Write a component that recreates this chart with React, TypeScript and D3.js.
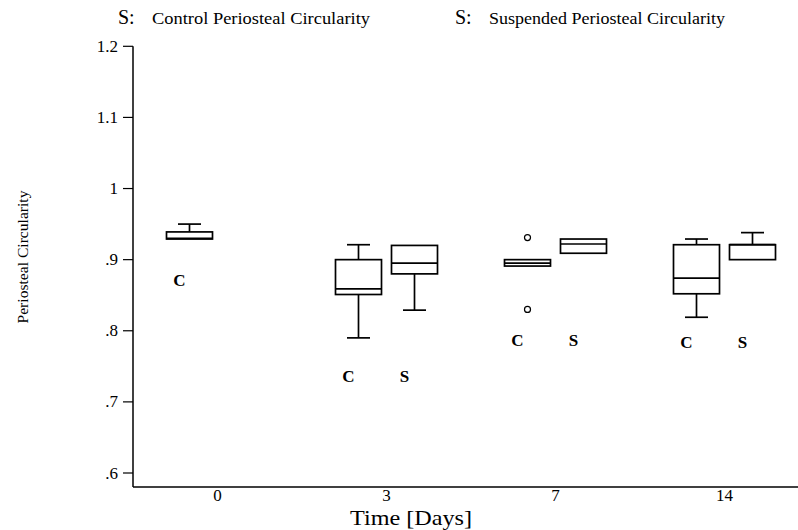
import { useEffect, useRef } from 'react';
import * as d3 from 'd3';

const days = ['0', '3', '7', '14'];
const groups = ['C', 'S'];

// [min, q1, median, q3, max]
const controlBoxes = [
  [0.93, 0.929, 0.93, 0.939, 0.95],
  [0.79, 0.851, 0.859, 0.9, 0.921],
  [0.891, 0.891, 0.895, 0.9, 0.9],
  [0.819, 0.852, 0.874, 0.921, 0.929],
];
const suspendedBoxes = [
  null,
  [0.829, 0.88, 0.895, 0.92, 0.92],
  [0.909, 0.909, 0.922, 0.929, 0.929],
  [0.9, 0.9, 0.921, 0.921, 0.938],
];
const controlOutliers = [[], [], [0.931, 0.83], []];
const suspendedOutliers = [[], [], [], []];
// where the C / S letters sit under each day
const labelLevels = [0.871, 0.736, 0.787, 0.784];

const yTicks = [0.6, 0.7, 0.8, 0.9, 1.0, 1.1, 1.2];
const yTickLabels = ['.6', '.7', '.8', '.9', '1', '1.1', '1.2'];

const legendItems = ['Control Periosteal Circularity', 'Suspended Periosteal Circularity'];

const FONT = '"Liberation Serif", "DejaVu Serif", serif';

export default function App() {
  const ref = useRef<SVGSVGElement>(null);

  useEffect(() => {
    const svg = d3.select(ref.current);
    svg.selectAll('*').remove();

    const W = 798;
    const left = 133, axisBottom = 487;

    const y = d3.scaleLinear().domain([0.6, 1.2]).range([473, 46.3]);
    const x0 = d3.scalePoint().domain(days).range([217.5, 724.5]);
    const x1 = d3.scaleBand().domain(groups).range([-51, 51]).paddingInner(10 / 56);
    const bw = x1.bandwidth();

    // axes
    svg.append('line').attr('x1', left).attr('x2', left).attr('y1', y(1.2)).attr('y2', axisBottom)
      .attr('stroke', '#000').attr('stroke-width', 1.5);
    svg.append('line').attr('x1', left).attr('x2', W).attr('y1', axisBottom).attr('y2', axisBottom)
      .attr('stroke', '#000').attr('stroke-width', 1.5);

    const yt = svg.append('g').selectAll('g').data(yTicks).enter().append('g');
    yt.append('line').attr('x1', left - 10).attr('x2', left).attr('y1', d => y(d)).attr('y2', d => y(d))
      .attr('stroke', '#000').attr('stroke-width', 1.2);
    yt.append('text').attr('x', 118).attr('y', d => y(d) + 5.5).attr('text-anchor', 'end')
      .style('font-family', FONT).style('font-size', '17px').text((d, i) => yTickLabels[i]);

    svg.selectAll('.xlab').data(days).enter().append('text').attr('class', 'xlab')
      .attr('x', d => x0(d)!).attr('y', 501).attr('text-anchor', 'middle')
      .style('font-family', FONT).style('font-size', '17px').text(d => d);

    svg.append('text').attr('x', 411).attr('y', 525).attr('text-anchor', 'middle')
      .attr('textLength', 122).attr('lengthAdjust', 'spacingAndGlyphs')
      .style('font-family', FONT).style('font-size', '21px').text('Time [Days]');

    svg.append('text').attr('transform', 'translate(28,257) rotate(-90)').attr('text-anchor', 'middle')
      .attr('textLength', 133).attr('lengthAdjust', 'spacingAndGlyphs')
      .style('font-family', FONT).style('font-size', '15px').text('Periosteal Circularity');

    // legend
    const legendWidths = [218, 236];
    const leg = svg.selectAll('.leg').data(legendItems).enter().append('g').attr('class', 'leg')
      .attr('transform', (d, i) => `translate(${i === 0 ? 118 : 455},24)`);
    leg.append('text').style('font-family', FONT).style('font-size', '20px')
      .text('S:');
    leg.append('text').attr('x', 34).attr('textLength', (d, i) => legendWidths[i])
      .attr('lengthAdjust', 'spacingAndGlyphs')
      .style('font-family', FONT).style('font-size', '16px').text(d => d);

    // boxes
    const series = [
      { key: 'C', boxes: controlBoxes, outliers: controlOutliers },
      { key: 'S', boxes: suspendedBoxes, outliers: suspendedOutliers },
    ];
    series.forEach(s => {
      days.forEach((day, i) => {
        const b = s.boxes[i];
        if (!b) return;
        const cx = x0(day)! + x1(s.key)! + bw / 2;
        const g = svg.append('g').attr('stroke', '#000').attr('stroke-width', 1.7).attr('fill', 'none');
        const [mn, q1, med, q3, mx] = b;
        if (mx > q3) {
          g.append('line').attr('x1', cx).attr('x2', cx).attr('y1', y(q3)).attr('y2', y(mx));
          g.append('line').attr('x1', cx - bw / 4).attr('x2', cx + bw / 4).attr('y1', y(mx)).attr('y2', y(mx));
        }
        if (mn < q1) {
          g.append('line').attr('x1', cx).attr('x2', cx).attr('y1', y(q1)).attr('y2', y(mn));
          g.append('line').attr('x1', cx - bw / 4).attr('x2', cx + bw / 4).attr('y1', y(mn)).attr('y2', y(mn));
        }
        g.append('rect').attr('x', cx - bw / 2).attr('width', bw).attr('y', y(q3))
          .attr('height', Math.max(y(q1) - y(q3), 1)).attr('fill', '#fff');
        g.append('line').attr('x1', cx - bw / 2).attr('x2', cx + bw / 2).attr('y1', y(med)).attr('y2', y(med));
        s.outliers[i].forEach(v => {
          g.append('circle').attr('cx', cx).attr('cy', y(v)).attr('r', 3).attr('stroke-width', 1.2);
        });
        svg.append('text').attr('x', cx - 10).attr('y', y(labelLevels[i]) + 6).attr('text-anchor', 'middle')
          .style('font-family', FONT).style('font-size', '17px').style('font-weight', 'bold').text(s.key);
      });
    });
  }, []);

  return (
    <div style={{ position: 'fixed', left: 0, top: 0, background: '#fff' }}>
      <svg ref={ref} width={798} height={530} />
    </div>
  );
}
